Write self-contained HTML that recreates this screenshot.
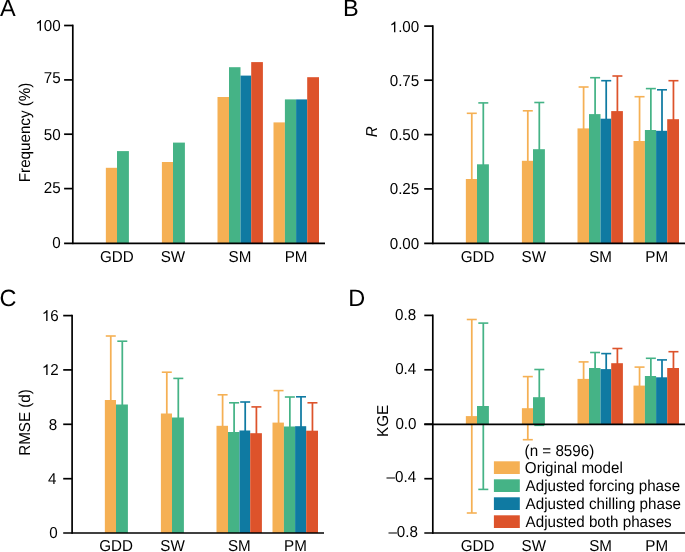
<!DOCTYPE html>
<html><head><meta charset="utf-8"><title>Figure</title>
<style>html,body{margin:0;padding:0;background:#fff;}svg{display:block;}
text{font-family:"Liberation Sans",sans-serif;fill:#000;text-rendering:geometricPrecision;}</style></head>
<body><div style="will-change:transform;width:685px;height:552px"><svg width="685" height="552" viewBox="0 0 685 552">
<rect width="685" height="552" fill="#fff"/>
<rect x="105.85" y="167.80" width="11.15" height="75.50" fill="#F5B054"/>
<rect x="117.00" y="151.10" width="11.90" height="92.20" fill="#45B386"/>
<rect x="161.90" y="162.00" width="11.10" height="81.30" fill="#F5B054"/>
<rect x="173.00" y="142.60" width="11.90" height="100.70" fill="#45B386"/>
<rect x="217.50" y="97.00" width="11.50" height="146.30" fill="#F5B054"/>
<rect x="229.00" y="67.20" width="11.50" height="176.10" fill="#45B386"/>
<rect x="240.50" y="75.60" width="10.70" height="167.70" fill="#0F7AA2"/>
<rect x="251.20" y="62.10" width="11.70" height="181.20" fill="#DD532B"/>
<rect x="273.50" y="122.40" width="11.40" height="120.90" fill="#F5B054"/>
<rect x="284.90" y="99.40" width="11.20" height="143.90" fill="#45B386"/>
<rect x="296.10" y="99.40" width="11.10" height="143.90" fill="#0F7AA2"/>
<rect x="307.20" y="77.20" width="11.80" height="166.10" fill="#DD532B"/>
<line x1="471.78" y1="113.30" x2="471.78" y2="243.40" stroke="#F5B054" stroke-width="1.75"/>
<line x1="466.78" y1="113.30" x2="476.78" y2="113.30" stroke="#F5B054" stroke-width="1.6"/>
<rect x="465.85" y="179.00" width="11.15" height="64.40" fill="#F5B054"/>
<line x1="483.30" y1="102.90" x2="483.30" y2="243.40" stroke="#45B386" stroke-width="1.75"/>
<line x1="478.30" y1="102.90" x2="488.30" y2="102.90" stroke="#45B386" stroke-width="1.6"/>
<rect x="477.00" y="164.30" width="11.90" height="79.10" fill="#45B386"/>
<line x1="527.80" y1="110.80" x2="527.80" y2="243.40" stroke="#F5B054" stroke-width="1.75"/>
<line x1="522.80" y1="110.80" x2="532.80" y2="110.80" stroke="#F5B054" stroke-width="1.6"/>
<rect x="521.90" y="160.80" width="11.10" height="82.60" fill="#F5B054"/>
<line x1="539.30" y1="102.50" x2="539.30" y2="243.40" stroke="#45B386" stroke-width="1.75"/>
<line x1="534.30" y1="102.50" x2="544.30" y2="102.50" stroke="#45B386" stroke-width="1.6"/>
<rect x="533.00" y="149.20" width="11.90" height="94.20" fill="#45B386"/>
<line x1="583.60" y1="87.00" x2="583.60" y2="243.40" stroke="#F5B054" stroke-width="1.75"/>
<line x1="578.60" y1="87.00" x2="588.60" y2="87.00" stroke="#F5B054" stroke-width="1.6"/>
<rect x="577.50" y="128.40" width="11.50" height="115.00" fill="#F5B054"/>
<line x1="595.10" y1="77.70" x2="595.10" y2="243.40" stroke="#45B386" stroke-width="1.75"/>
<line x1="590.10" y1="77.70" x2="600.10" y2="77.70" stroke="#45B386" stroke-width="1.6"/>
<rect x="589.00" y="114.10" width="11.50" height="129.30" fill="#45B386"/>
<line x1="606.20" y1="80.70" x2="606.20" y2="243.40" stroke="#0F7AA2" stroke-width="1.75"/>
<line x1="601.20" y1="80.70" x2="611.20" y2="80.70" stroke="#0F7AA2" stroke-width="1.6"/>
<rect x="600.50" y="118.70" width="10.70" height="124.70" fill="#0F7AA2"/>
<line x1="617.40" y1="76.00" x2="617.40" y2="243.40" stroke="#DD532B" stroke-width="1.75"/>
<line x1="612.40" y1="76.00" x2="622.40" y2="76.00" stroke="#DD532B" stroke-width="1.6"/>
<rect x="611.20" y="111.10" width="11.70" height="132.30" fill="#DD532B"/>
<line x1="639.55" y1="96.70" x2="639.55" y2="243.40" stroke="#F5B054" stroke-width="1.75"/>
<line x1="634.55" y1="96.70" x2="644.55" y2="96.70" stroke="#F5B054" stroke-width="1.6"/>
<rect x="633.50" y="141.00" width="11.40" height="102.40" fill="#F5B054"/>
<line x1="650.85" y1="88.60" x2="650.85" y2="243.40" stroke="#45B386" stroke-width="1.75"/>
<line x1="645.85" y1="88.60" x2="655.85" y2="88.60" stroke="#45B386" stroke-width="1.6"/>
<rect x="644.90" y="130.00" width="11.20" height="113.40" fill="#45B386"/>
<line x1="662.00" y1="89.80" x2="662.00" y2="243.40" stroke="#0F7AA2" stroke-width="1.75"/>
<line x1="657.00" y1="89.80" x2="667.00" y2="89.80" stroke="#0F7AA2" stroke-width="1.6"/>
<rect x="656.10" y="130.80" width="11.10" height="112.60" fill="#0F7AA2"/>
<line x1="673.45" y1="80.70" x2="673.45" y2="243.40" stroke="#DD532B" stroke-width="1.75"/>
<line x1="668.45" y1="80.70" x2="678.45" y2="80.70" stroke="#DD532B" stroke-width="1.6"/>
<rect x="667.20" y="119.20" width="11.80" height="124.20" fill="#DD532B"/>
<line x1="110.77" y1="336.00" x2="110.77" y2="533.00" stroke="#F5B054" stroke-width="1.75"/>
<line x1="105.77" y1="336.00" x2="115.77" y2="336.00" stroke="#F5B054" stroke-width="1.6"/>
<rect x="104.85" y="400.00" width="11.15" height="133.00" fill="#F5B054"/>
<line x1="122.30" y1="341.20" x2="122.30" y2="533.00" stroke="#45B386" stroke-width="1.75"/>
<line x1="117.30" y1="341.20" x2="127.30" y2="341.20" stroke="#45B386" stroke-width="1.6"/>
<rect x="116.00" y="404.50" width="11.90" height="128.50" fill="#45B386"/>
<line x1="166.80" y1="372.20" x2="166.80" y2="533.00" stroke="#F5B054" stroke-width="1.75"/>
<line x1="161.80" y1="372.20" x2="171.80" y2="372.20" stroke="#F5B054" stroke-width="1.6"/>
<rect x="160.90" y="413.50" width="11.10" height="119.50" fill="#F5B054"/>
<line x1="178.30" y1="378.40" x2="178.30" y2="533.00" stroke="#45B386" stroke-width="1.75"/>
<line x1="173.30" y1="378.40" x2="183.30" y2="378.40" stroke="#45B386" stroke-width="1.6"/>
<rect x="172.00" y="417.50" width="11.90" height="115.50" fill="#45B386"/>
<line x1="222.60" y1="394.80" x2="222.60" y2="533.00" stroke="#F5B054" stroke-width="1.75"/>
<line x1="217.60" y1="394.80" x2="227.60" y2="394.80" stroke="#F5B054" stroke-width="1.6"/>
<rect x="216.50" y="425.80" width="11.50" height="107.20" fill="#F5B054"/>
<line x1="234.10" y1="402.80" x2="234.10" y2="533.00" stroke="#45B386" stroke-width="1.75"/>
<line x1="229.10" y1="402.80" x2="239.10" y2="402.80" stroke="#45B386" stroke-width="1.6"/>
<rect x="228.00" y="432.00" width="11.50" height="101.00" fill="#45B386"/>
<line x1="245.20" y1="402.00" x2="245.20" y2="533.00" stroke="#0F7AA2" stroke-width="1.75"/>
<line x1="240.20" y1="402.00" x2="250.20" y2="402.00" stroke="#0F7AA2" stroke-width="1.6"/>
<rect x="239.50" y="430.50" width="10.70" height="102.50" fill="#0F7AA2"/>
<line x1="256.40" y1="406.90" x2="256.40" y2="533.00" stroke="#DD532B" stroke-width="1.75"/>
<line x1="251.40" y1="406.90" x2="261.40" y2="406.90" stroke="#DD532B" stroke-width="1.6"/>
<rect x="250.20" y="433.20" width="11.70" height="99.80" fill="#DD532B"/>
<line x1="278.55" y1="390.60" x2="278.55" y2="533.00" stroke="#F5B054" stroke-width="1.75"/>
<line x1="273.55" y1="390.60" x2="283.55" y2="390.60" stroke="#F5B054" stroke-width="1.6"/>
<rect x="272.50" y="422.60" width="11.40" height="110.40" fill="#F5B054"/>
<line x1="289.85" y1="397.00" x2="289.85" y2="533.00" stroke="#45B386" stroke-width="1.75"/>
<line x1="284.85" y1="397.00" x2="294.85" y2="397.00" stroke="#45B386" stroke-width="1.6"/>
<rect x="283.90" y="426.50" width="11.20" height="106.50" fill="#45B386"/>
<line x1="301.00" y1="396.80" x2="301.00" y2="533.00" stroke="#0F7AA2" stroke-width="1.75"/>
<line x1="296.00" y1="396.80" x2="306.00" y2="396.80" stroke="#0F7AA2" stroke-width="1.6"/>
<rect x="295.10" y="426.20" width="11.10" height="106.80" fill="#0F7AA2"/>
<line x1="312.45" y1="402.80" x2="312.45" y2="533.00" stroke="#DD532B" stroke-width="1.75"/>
<line x1="307.45" y1="402.80" x2="317.45" y2="402.80" stroke="#DD532B" stroke-width="1.6"/>
<rect x="306.20" y="430.70" width="11.80" height="102.30" fill="#DD532B"/>
<line x1="466.78" y1="513.00" x2="476.78" y2="513.00" stroke="#F5B054" stroke-width="1.6"/>
<line x1="471.78" y1="319.50" x2="471.78" y2="513.00" stroke="#F5B054" stroke-width="1.75"/>
<line x1="466.78" y1="319.50" x2="476.78" y2="319.50" stroke="#F5B054" stroke-width="1.6"/>
<rect x="465.85" y="416.10" width="11.15" height="8.35" fill="#F5B054"/>
<line x1="478.30" y1="489.40" x2="488.30" y2="489.40" stroke="#45B386" stroke-width="1.6"/>
<line x1="483.30" y1="323.10" x2="483.30" y2="489.40" stroke="#45B386" stroke-width="1.75"/>
<line x1="478.30" y1="323.10" x2="488.30" y2="323.10" stroke="#45B386" stroke-width="1.6"/>
<rect x="477.00" y="406.00" width="11.90" height="18.45" fill="#45B386"/>
<line x1="522.80" y1="439.70" x2="532.80" y2="439.70" stroke="#F5B054" stroke-width="1.6"/>
<line x1="527.80" y1="376.60" x2="527.80" y2="439.70" stroke="#F5B054" stroke-width="1.75"/>
<line x1="522.80" y1="376.60" x2="532.80" y2="376.60" stroke="#F5B054" stroke-width="1.6"/>
<rect x="521.90" y="408.20" width="11.10" height="16.25" fill="#F5B054"/>
<line x1="534.30" y1="425.30" x2="544.30" y2="425.30" stroke="#45B386" stroke-width="1.6"/>
<line x1="539.30" y1="369.50" x2="539.30" y2="425.30" stroke="#45B386" stroke-width="1.75"/>
<line x1="534.30" y1="369.50" x2="544.30" y2="369.50" stroke="#45B386" stroke-width="1.6"/>
<rect x="533.00" y="397.20" width="11.90" height="27.25" fill="#45B386"/>
<line x1="583.60" y1="361.90" x2="583.60" y2="424.45" stroke="#F5B054" stroke-width="1.75"/>
<line x1="578.60" y1="361.90" x2="588.60" y2="361.90" stroke="#F5B054" stroke-width="1.6"/>
<rect x="577.50" y="378.90" width="11.50" height="45.55" fill="#F5B054"/>
<line x1="595.10" y1="352.50" x2="595.10" y2="424.45" stroke="#45B386" stroke-width="1.75"/>
<line x1="590.10" y1="352.50" x2="600.10" y2="352.50" stroke="#45B386" stroke-width="1.6"/>
<rect x="589.00" y="368.00" width="11.50" height="56.45" fill="#45B386"/>
<line x1="606.20" y1="353.60" x2="606.20" y2="424.45" stroke="#0F7AA2" stroke-width="1.75"/>
<line x1="601.20" y1="353.60" x2="611.20" y2="353.60" stroke="#0F7AA2" stroke-width="1.6"/>
<rect x="600.50" y="369.10" width="10.70" height="55.35" fill="#0F7AA2"/>
<line x1="617.40" y1="348.50" x2="617.40" y2="424.45" stroke="#DD532B" stroke-width="1.75"/>
<line x1="612.40" y1="348.50" x2="622.40" y2="348.50" stroke="#DD532B" stroke-width="1.6"/>
<rect x="611.20" y="363.20" width="11.70" height="61.25" fill="#DD532B"/>
<line x1="639.55" y1="367.10" x2="639.55" y2="424.45" stroke="#F5B054" stroke-width="1.75"/>
<line x1="634.55" y1="367.10" x2="644.55" y2="367.10" stroke="#F5B054" stroke-width="1.6"/>
<rect x="633.50" y="385.60" width="11.40" height="38.85" fill="#F5B054"/>
<line x1="650.85" y1="358.30" x2="650.85" y2="424.45" stroke="#45B386" stroke-width="1.75"/>
<line x1="645.85" y1="358.30" x2="655.85" y2="358.30" stroke="#45B386" stroke-width="1.6"/>
<rect x="644.90" y="376.00" width="11.20" height="48.45" fill="#45B386"/>
<line x1="662.00" y1="359.90" x2="662.00" y2="424.45" stroke="#0F7AA2" stroke-width="1.75"/>
<line x1="657.00" y1="359.90" x2="667.00" y2="359.90" stroke="#0F7AA2" stroke-width="1.6"/>
<rect x="656.10" y="377.30" width="11.10" height="47.15" fill="#0F7AA2"/>
<line x1="673.45" y1="351.70" x2="673.45" y2="424.45" stroke="#DD532B" stroke-width="1.75"/>
<line x1="668.45" y1="351.70" x2="678.45" y2="351.70" stroke="#DD532B" stroke-width="1.6"/>
<rect x="667.20" y="368.00" width="11.80" height="56.45" fill="#DD532B"/>
<line x1="72.80" y1="24.65" x2="72.80" y2="244.15" stroke="#000" stroke-width="1.7"/>
<line x1="64.10" y1="25.50" x2="72.80" y2="25.50" stroke="#000" stroke-width="1.7"/>
<line x1="64.10" y1="79.90" x2="72.80" y2="79.90" stroke="#000" stroke-width="1.7"/>
<line x1="64.10" y1="134.20" x2="72.80" y2="134.20" stroke="#000" stroke-width="1.7"/>
<line x1="64.10" y1="188.60" x2="72.80" y2="188.60" stroke="#000" stroke-width="1.7"/>
<line x1="64.10" y1="243.30" x2="325.00" y2="243.30" stroke="#000" stroke-width="1.7"/>
<line x1="432.80" y1="25.25" x2="432.80" y2="244.25" stroke="#000" stroke-width="1.7"/>
<line x1="424.20" y1="26.10" x2="432.80" y2="26.10" stroke="#000" stroke-width="1.7"/>
<line x1="424.20" y1="80.20" x2="432.80" y2="80.20" stroke="#000" stroke-width="1.7"/>
<line x1="424.20" y1="134.60" x2="432.80" y2="134.60" stroke="#000" stroke-width="1.7"/>
<line x1="424.20" y1="188.90" x2="432.80" y2="188.90" stroke="#000" stroke-width="1.7"/>
<line x1="424.20" y1="243.40" x2="686.00" y2="243.40" stroke="#000" stroke-width="1.7"/>
<line x1="72.10" y1="314.75" x2="72.10" y2="533.85" stroke="#000" stroke-width="1.7"/>
<line x1="63.20" y1="315.60" x2="72.10" y2="315.60" stroke="#000" stroke-width="1.7"/>
<line x1="63.20" y1="369.90" x2="72.10" y2="369.90" stroke="#000" stroke-width="1.7"/>
<line x1="63.20" y1="424.30" x2="72.10" y2="424.30" stroke="#000" stroke-width="1.7"/>
<line x1="63.20" y1="478.70" x2="72.10" y2="478.70" stroke="#000" stroke-width="1.7"/>
<line x1="63.20" y1="533.00" x2="324.00" y2="533.00" stroke="#000" stroke-width="1.7"/>
<line x1="432.80" y1="314.55" x2="432.80" y2="533.85" stroke="#000" stroke-width="1.7"/>
<line x1="424.30" y1="315.40" x2="432.80" y2="315.40" stroke="#000" stroke-width="1.7"/>
<line x1="424.30" y1="369.80" x2="432.80" y2="369.80" stroke="#000" stroke-width="1.7"/>
<line x1="424.30" y1="424.20" x2="432.80" y2="424.20" stroke="#000" stroke-width="1.7"/>
<line x1="424.30" y1="478.70" x2="432.80" y2="478.70" stroke="#000" stroke-width="1.7"/>
<line x1="424.30" y1="533.00" x2="686.00" y2="533.00" stroke="#000" stroke-width="1.7"/>
<line x1="424.30" y1="424.45" x2="686.00" y2="424.45" stroke="#000" stroke-width="1.7"/>
<rect x="493.90" y="461.30" width="25.90" height="12.70" fill="#F5B054"/>
<rect x="493.90" y="479.30" width="25.90" height="12.70" fill="#45B386"/>
<rect x="493.90" y="497.30" width="25.90" height="12.70" fill="#0F7AA2"/>
<rect x="493.90" y="515.30" width="25.90" height="12.70" fill="#DD532B"/>
<text transform="translate(0.00,16.10) scale(1,1.0)" font-size="23.5" font-style="normal">A</text>
<text transform="translate(343.00,16.20) scale(1,1.0)" font-size="23.5" font-style="normal">B</text>
<text transform="translate(-0.55,305.95) scale(1,1.0)" font-size="23.5" font-style="normal">C</text>
<text transform="translate(348.20,305.90) scale(1,1.0)" font-size="23.5" font-style="normal">D</text>
<path transform="translate(35.35,30.79) scale(0.007422,-0.007719)" d="M583 0L763 0L763 1409L646 1409C614 1345.6 560 1283.1 486 1220.6C412 1158.1 325 1105.3 224 1061.1L224 893.8C278 913.1 338 940 405 975.5C472 1011.1 531 1049.5 583 1088.9Z" fill="#000"/>
<text transform="translate(35.35,30.79) scale(1,1.04)" font-size="15.2" font-style="normal"> 00</text>
<text transform="translate(43.85,83.04) scale(1,1.04)" font-size="15.2" font-style="normal">75</text>
<text transform="translate(43.85,139.54) scale(1,1.04)" font-size="15.2" font-style="normal">50</text>
<text transform="translate(43.85,193.44) scale(1,1.04)" font-size="15.2" font-style="normal">25</text>
<text transform="translate(52.35,247.94) scale(1,1.04)" font-size="15.2" font-style="normal">0</text>
<path transform="translate(389.70,32.29) scale(0.007422,-0.007719)" d="M583 0L763 0L763 1409L646 1409C614 1345.6 560 1283.1 486 1220.6C412 1158.1 325 1105.3 224 1061.1L224 893.8C278 913.1 338 940 405 975.5C472 1011.1 531 1049.5 583 1088.9Z" fill="#000"/>
<text transform="translate(389.70,32.29) scale(1,1.04)" font-size="15.2" font-style="normal"> .00</text>
<text transform="translate(389.70,85.84) scale(1,1.04)" font-size="15.2" font-style="normal">0.75</text>
<text transform="translate(389.70,139.99) scale(1,1.04)" font-size="15.2" font-style="normal">0.50</text>
<text transform="translate(389.70,193.94) scale(1,1.04)" font-size="15.2" font-style="normal">0.25</text>
<text transform="translate(389.70,248.54) scale(1,1.04)" font-size="15.2" font-style="normal">0.00</text>
<path transform="translate(41.85,320.99) scale(0.007422,-0.007719)" d="M583 0L763 0L763 1409L646 1409C614 1345.6 560 1283.1 486 1220.6C412 1158.1 325 1105.3 224 1061.1L224 893.8C278 913.1 338 940 405 975.5C472 1011.1 531 1049.5 583 1088.9Z" fill="#000"/>
<text transform="translate(41.85,320.99) scale(1,1.04)" font-size="15.2" font-style="normal"> 6</text>
<path transform="translate(41.90,375.04) scale(0.007422,-0.007719)" d="M583 0L763 0L763 1409L646 1409C614 1345.6 560 1283.1 486 1220.6C412 1158.1 325 1105.3 224 1061.1L224 893.8C278 913.1 338 940 405 975.5C472 1011.1 531 1049.5 583 1088.9Z" fill="#000"/>
<text transform="translate(41.90,375.04) scale(1,1.04)" font-size="15.2" font-style="normal"> 2</text>
<text transform="translate(48.65,430.29) scale(1,1.04)" font-size="15.2" font-style="normal">8</text>
<text transform="translate(48.10,483.64) scale(1,1.04)" font-size="15.2" font-style="normal">4</text>
<text transform="translate(49.25,538.29) scale(1,1.04)" font-size="15.2" font-style="normal">0</text>
<text transform="translate(395.10,319.74) scale(1,1.04)" font-size="15.2" font-style="normal">0.8</text>
<text transform="translate(395.15,373.99) scale(1,1.04)" font-size="15.2" font-style="normal">0.4</text>
<text transform="translate(395.40,428.79) scale(1,1.04)" font-size="15.2" font-style="normal">0.0</text>
<text transform="translate(386.55,482.29) scale(1,1.04)" font-size="15.2" font-style="normal">–0.4</text>
<text transform="translate(388.40,537.09) scale(1,1.04)" font-size="15.2" font-style="normal">–0.8</text>
<text transform="translate(99.88,261.94) scale(1,1.04)" font-size="15.2" font-style="normal">GDD</text>
<text transform="translate(160.65,261.94) scale(1,1.04)" font-size="15.2" font-style="normal">SW</text>
<text transform="translate(228.57,261.94) scale(1,1.04)" font-size="15.2" font-style="normal">SM</text>
<text transform="translate(284.73,261.94) scale(1,1.04)" font-size="15.2" font-style="normal">PM</text>
<text transform="translate(460.78,261.94) scale(1,1.04)" font-size="15.2" font-style="normal">GDD</text>
<text transform="translate(521.60,261.94) scale(1,1.04)" font-size="15.2" font-style="normal">SW</text>
<text transform="translate(589.17,261.94) scale(1,1.04)" font-size="15.2" font-style="normal">SM</text>
<text transform="translate(645.33,261.94) scale(1,1.04)" font-size="15.2" font-style="normal">PM</text>
<text transform="translate(99.28,551.24) scale(1,1.04)" font-size="15.2" font-style="normal">GDD</text>
<text transform="translate(160.30,551.24) scale(1,1.04)" font-size="15.2" font-style="normal">SW</text>
<text transform="translate(227.97,551.24) scale(1,1.04)" font-size="15.2" font-style="normal">SM</text>
<text transform="translate(284.12,551.24) scale(1,1.04)" font-size="15.2" font-style="normal">PM</text>
<text transform="translate(460.78,551.44) scale(1,1.04)" font-size="15.2" font-style="normal">GDD</text>
<text transform="translate(521.60,551.44) scale(1,1.04)" font-size="15.2" font-style="normal">SW</text>
<text transform="translate(589.17,551.44) scale(1,1.04)" font-size="15.2" font-style="normal">SM</text>
<text transform="translate(645.33,551.44) scale(1,1.04)" font-size="15.2" font-style="normal">PM</text>
<text transform="translate(29.80,182.20) rotate(-90) scale(1,1.04)" font-size="15.2" font-style="normal">Frequency (%)</text>
<text transform="translate(377.10,137.15) rotate(-90) scale(1,1.04)" font-size="15.2" font-style="italic">R</text>
<text transform="translate(29.90,455.80) rotate(-90) scale(1,1.04)" font-size="15.2" font-style="normal">RMSE (d)</text>
<text transform="translate(387.90,436.93) rotate(-90) scale(1,1.04)" font-size="15.2" font-style="normal">KGE</text>
<text transform="translate(524.60,455.99) scale(1,1.04)" font-size="15.2" font-style="normal">(n = 8596)</text>
<text transform="translate(524.85,473.24) scale(1,1.04)" font-size="15.2" font-style="normal">Original model</text>
<text transform="translate(525.60,490.79) scale(1,1.04)" font-size="15.2" font-style="normal">Adjusted forcing phase</text>
<text transform="translate(525.60,508.79) scale(1,1.04)" font-size="15.2" font-style="normal">Adjusted chilling phase</text>
<text transform="translate(525.60,526.79) scale(1,1.04)" font-size="15.2" font-style="normal">Adjusted both phases</text>
</svg></div></body></html>
